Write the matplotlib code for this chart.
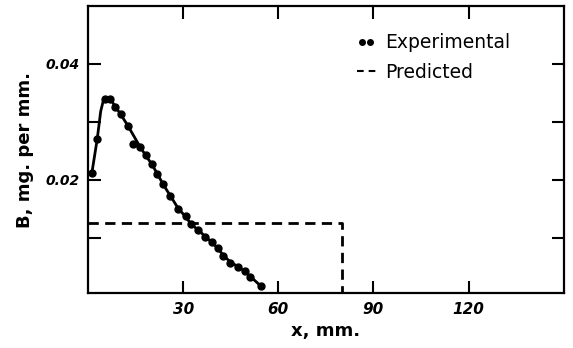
import matplotlib
matplotlib.use("Agg")
import matplotlib.pyplot as plt
from matplotlib.lines import Line2D
from matplotlib.legend_handler import HandlerLine2D

# Experimental points (x in mm, B in mg per mm)
exp_x = [1.2, 2.9, 5.4, 6.9, 8.5, 10.3, 12.5, 14.1, 16.4, 18.2, 20.1, 21.9, 23.7,
         26.0, 28.4, 30.8, 32.6, 34.8, 37.0, 39.1, 41.0, 42.6, 44.9, 47.3, 49.4,
         51.2, 54.6]
exp_y = [0.0211, 0.0270, 0.0340, 0.0340, 0.0326, 0.0313, 0.0292, 0.0261, 0.0256,
         0.0242, 0.0227, 0.0210, 0.0192, 0.0172, 0.0150, 0.0137, 0.0123, 0.0114,
         0.0102, 0.0092, 0.0082, 0.0069, 0.0057, 0.0050, 0.0043, 0.0033, 0.0016]

# Smooth fitted curve through the experimental data
curve_x = [1.2, 2.9, 4.0, 4.8, 5.6, 6.9, 8.5, 10.3, 12.5, 16.4, 18.2, 20.1, 21.9,
           23.7, 26.0, 28.4, 30.8, 32.6, 34.8, 37.0, 39.1, 41.0, 42.6, 44.9, 47.3,
           49.4, 51.2, 54.6]
curve_y = [0.0211, 0.0270, 0.0318, 0.0336, 0.0342, 0.0341, 0.0327, 0.0313, 0.0294,
           0.0257, 0.0242, 0.0227, 0.0210, 0.0192, 0.0172, 0.0151, 0.0136, 0.0123,
           0.0113, 0.0102, 0.0092, 0.0081, 0.0070, 0.0058, 0.0050, 0.0042, 0.0033,
           0.0016]

# Predicted distribution
pred_x = [0, 80, 80]
pred_y = [0.0125, 0.0125, 0.0]

x_ticks = [30, 60, 90, 120]
x_ticklabels = ["30", "60", "90", "120"]
y_ticks = [0.01, 0.02, 0.03, 0.04]
y_ticklabels = ["", "0.02", "", "0.04"]

fig = plt.figure(figsize=(5.73, 3.48), dpi=100)
ax = fig.add_axes([88/573, 1 - 293.3/348, (563.7 - 88)/573, (293.3 - 6)/348])

ax.plot(curve_x, curve_y, color="black", lw=2.0, solid_capstyle="round",
        solid_joinstyle="round")
ax.plot(exp_x, exp_y, "o", color="black", ms=5, ls="none")
ax.plot(pred_x, pred_y, color="black", lw=2.0, ls=(0, (3.7, 2.3)))

ax.set_xlim(0, 150)
ax.set_ylim(0.0004, 0.05)

ax.set_xticks(x_ticks)
ax.set_xticklabels(x_ticklabels, fontsize=11, fontweight="bold", fontstyle="italic")
ax.set_yticks(y_ticks)
ax.set_yticklabels(y_ticklabels, fontsize=10, fontweight="bold", fontstyle="italic")
ax.tick_params(direction="in", length=9, width=1.5, top=True, right=True, pad=6)

for s in ax.spines.values():
    s.set_linewidth(1.6)

ax.set_xlabel("x, mm.", fontsize=13, fontweight="bold", labelpad=4)
ax.set_ylabel("B, mg. per mm.", fontsize=13, fontweight="bold", labelpad=8)

h_exp = Line2D([], [], marker="o", color="black", ls="none", ms=4)
h_pred = Line2D([], [], color="black", lw=1.5, ls="--", dashes=(3.2, 2.4))
leg = ax.legend([h_exp, h_pred], ["Experimental", "Predicted"], loc="upper left",
                frameon=False, numpoints=2, handlelength=1.0, handletextpad=0.5,
                fontsize=13.5, bbox_to_anchor=(0.565, 0.905), borderpad=0,
                labelspacing=0.55, borderaxespad=0,
                handler_map={h_pred: HandlerLine2D(numpoints=1)})

fig.savefig("out.png", dpi=100)
